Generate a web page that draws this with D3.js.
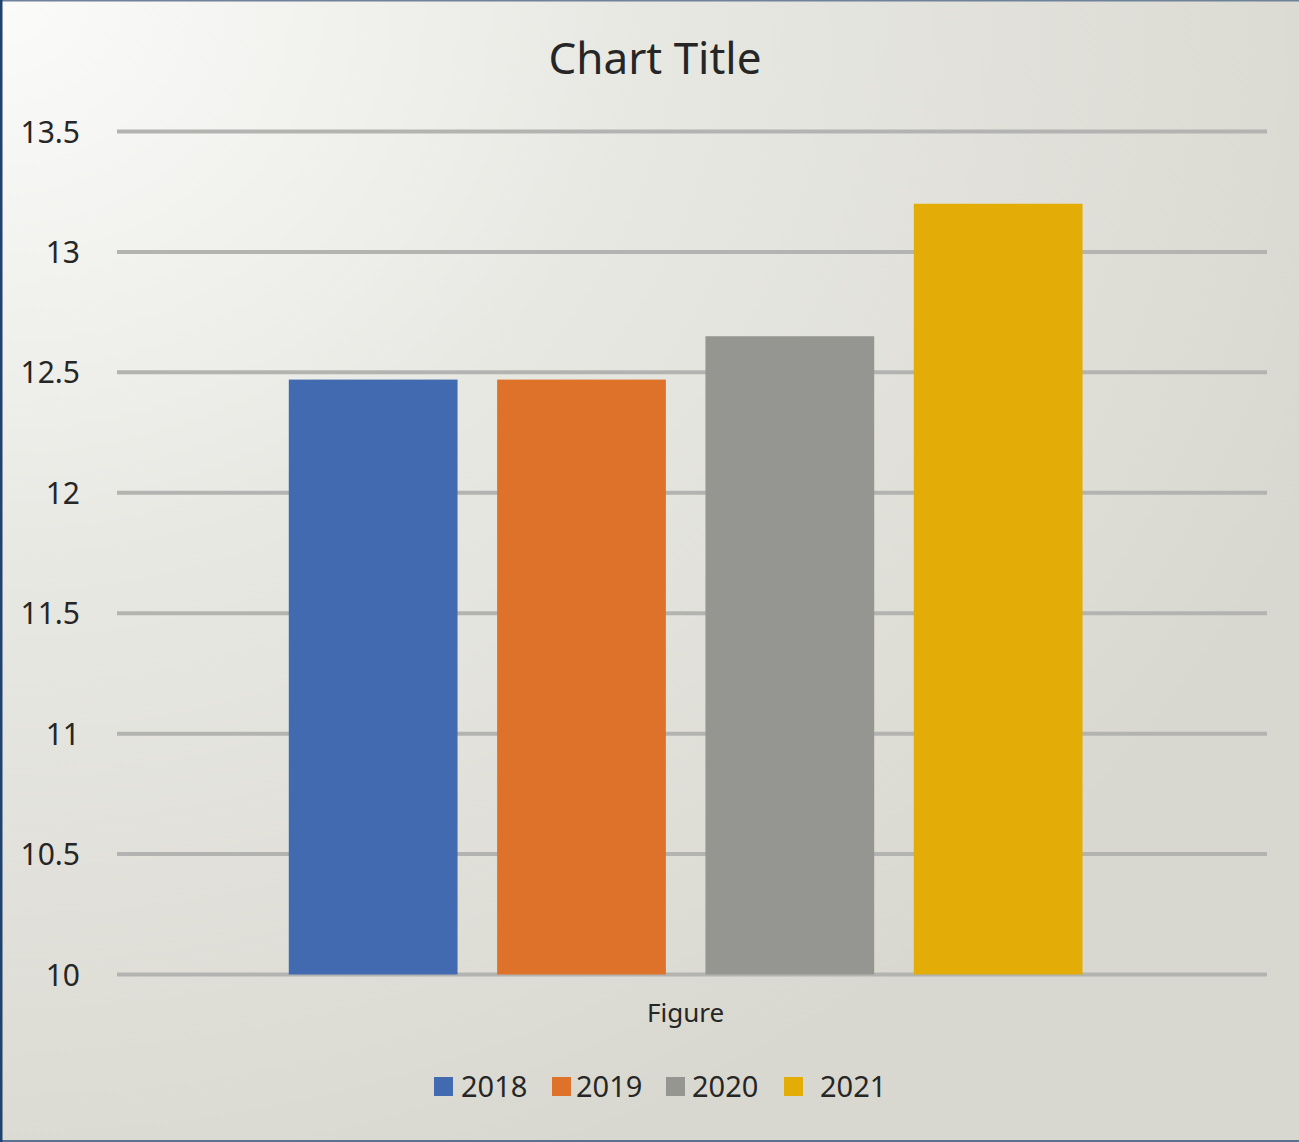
<!DOCTYPE html>
<html>
<head>
<meta charset="utf-8">
<script src="https://cdn.jsdelivr.net/npm/d3@7"></script>
<style>
  html, body { margin: 0; padding: 0; }
  body { width: 1299px; height: 1142px; overflow: hidden; }
  text { font-family: "Noto Sans", "Open Sans", sans-serif; fill: #262626; }
</style>
</head>
<body>
<div id="chart"></div>
<script>
// chart data
const categories = ["Figure"];
const seriesNames = ["2018", "2019", "2020", "2021"];
const seriesValues = [12.47, 12.47, 12.65, 13.2];
const seriesColors = ["#416ab0", "#de722b", "#959591", "#e3ac06"];
const yTicks = [10, 10.5, 11, 11.5, 12, 12.5, 13, 13.5];

const width = 1299, height = 1142;
const margin = {top: 131.5, right: 32, bottom: 167.5, left: 117};

const svg = d3.select("#chart")
  .append("svg")
  .attr("width", width)
  .attr("height", height);

// background gradient
const defs = svg.append("defs");
const grad = defs.append("radialGradient")
  .attr("id", "bg")
  .attr("cx", "0").attr("cy", "0").attr("r", "1.1")
  .attr("gradientUnits", "objectBoundingBox");
grad.append("stop").attr("offset", "0").attr("stop-color", "#fbfbfa");
grad.append("stop").attr("offset", "0.45").attr("stop-color", "#e8e8e3");
grad.append("stop").attr("offset", "1").attr("stop-color", "#d9d8d0");

svg.append("rect")
  .attr("width", width).attr("height", height)
  .attr("fill", "url(#bg)");

// borders
svg.append("rect").attr("x", 0).attr("y", 0).attr("width", width).attr("height", 1.5).attr("fill", "#6f8299");
svg.append("rect").attr("x", 0).attr("y", height - 2).attr("width", width).attr("height", 2).attr("fill", "#5b7190");
svg.append("rect").attr("x", 0).attr("y", 0).attr("width", 2.5).attr("height", height).attr("fill", "#1f426f");

// scales
const yScale = d3.scaleLinear()
  .domain([10, 13.5])
  .range([height - margin.bottom, margin.top]);

const x0 = d3.scaleBand()
  .domain(categories)
  .range([margin.left, width - margin.right])
  .paddingOuter(0.19)
  .align(0.48);

const x1 = d3.scaleBand()
  .domain(seriesNames)
  .range([0, x0.bandwidth()])
  .paddingInner(0.19)
  .paddingOuter(0.095);

// gridlines
svg.append("g")
  .selectAll("line")
  .data(yTicks)
  .enter()
  .append("line")
    .attr("x1", margin.left)
    .attr("x2", width - margin.right)
    .attr("y1", d => yScale(d))
    .attr("y2", d => yScale(d))
    .attr("stroke", "#b3b3b1")
    .attr("stroke-width", 4);

// y axis labels
const yAxis = svg.append("g")
  .attr("transform", `translate(80,0)`)
  .call(d3.axisLeft(yScale).tickValues(yTicks).tickSize(0).tickPadding(0).tickFormat(d3.format("")));
yAxis.select(".domain").remove();
yAxis.selectAll("text")
  .attr("font-size", "30px")
  .attr("font-family", "Noto Sans, sans-serif")
  .attr("fill", "#262626")
  .attr("dy", "0.35em");

// bars
const group = svg.append("g")
  .selectAll("g")
  .data(categories)
  .enter()
  .append("g")
    .attr("transform", d => `translate(${x0(d)},0)`);

group.selectAll("rect")
  .data(seriesNames.map((s, i) => ({name: s, value: seriesValues[i], color: seriesColors[i]})))
  .enter()
  .append("rect")
    .attr("x", d => x1(d.name))
    .attr("y", d => yScale(d.value))
    .attr("width", x1.bandwidth())
    .attr("height", d => yScale(10) - yScale(d.value))
    .attr("fill", d => d.color);

// x axis label
const xAxis = svg.append("g")
  .attr("transform", `translate(0,${yScale(10) + 29})`)
  .call(d3.axisBottom(x0).tickSize(0).tickPadding(0));
xAxis.select(".domain").remove();
xAxis.selectAll("text")
  .attr("font-size", "26px")
  .attr("font-family", "Noto Sans, sans-serif")
  .attr("fill", "#262626");

// title
svg.append("text")
  .attr("x", 655)
  .attr("y", 74)
  .attr("text-anchor", "middle")
  .attr("font-size", "44px")
  .text("Chart Title");

// legend
const legendX = [434, 552, 666, 784];
const legendTextX = [461, 576, 692, 820];
const legend = svg.append("g");
seriesNames.forEach((s, i) => {
  legend.append("rect")
    .attr("x", legendX[i])
    .attr("y", 1077)
    .attr("width", 19)
    .attr("height", 19)
    .attr("fill", seriesColors[i]);
  legend.append("text")
    .attr("x", legendTextX[i])
    .attr("y", 1087)
    .attr("dy", "0.35em")
    .attr("font-size", "29px")
    .text(s);
});
</script>
</body>
</html>
